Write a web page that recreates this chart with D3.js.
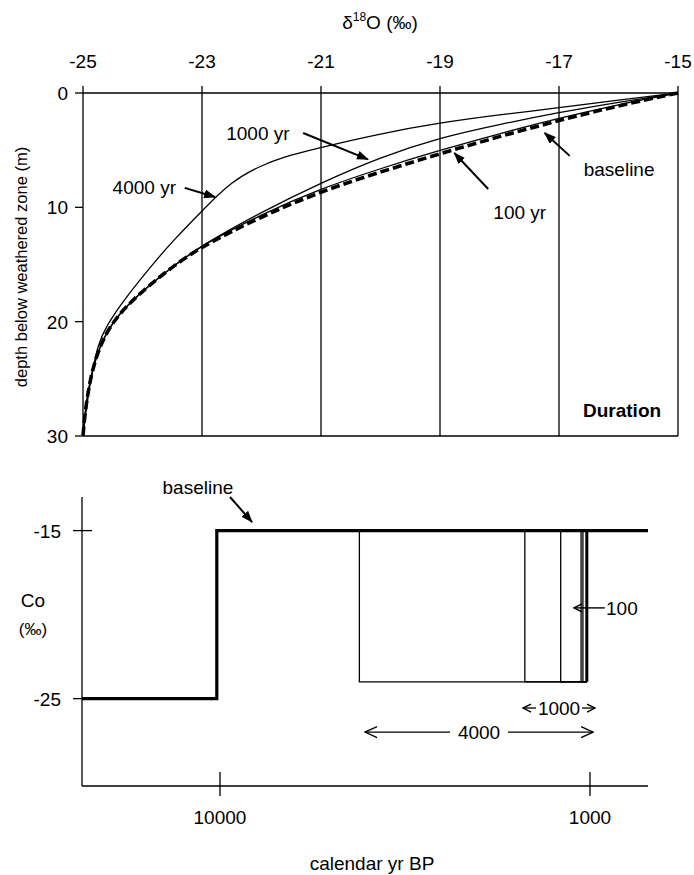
<!DOCTYPE html>
<html>
<head>
<meta charset="utf-8">
<script src="https://cdn.jsdelivr.net/npm/d3@7"></script>
<style>
  body { margin: 0; background: #fff; }
  text { font-family: "Liberation Sans", Arial, Helvetica, sans-serif; fill: #000; }
</style>
</head>
<body>
<div id="chart"></div>
<script>
// ---------- values ----------
const o18Ticks = [-25, -23, -21, -19, -17, -15];
const depthTicks = [0, 10, 20, 30];

// profiles: [delta18O (permil), depth below weathered zone (m)]
const baselineProfile = [
  [-15, 0], [-16, 1.1], [-17, 2.4], [-18, 3.8], [-19, 5.3], [-20, 6.9], [-21, 8.6],
  [-22, 10.8], [-23, 13.4], [-23.5, 15.2], [-24, 17.3], [-24.5, 19.8], [-24.8, 23],
  [-24.95, 27], [-25, 30]
];
const profile100 = [
  [-15, 0], [-16, 1.0], [-17, 2.2], [-18, 3.55], [-19, 5.0], [-20, 6.6], [-21, 8.35],
  [-22, 10.6], [-23, 13.3], [-23.5, 15.2], [-24, 17.3], [-24.5, 19.8], [-24.8, 23],
  [-24.95, 27], [-25, 30]
];
const profile1000 = [
  [-15, 0], [-16, 0.8], [-17, 1.7], [-18, 2.75], [-19, 3.9], [-20, 5.6], [-21, 7.85],
  [-22, 10.4], [-23, 13.3], [-23.5, 15.2], [-24, 17.3], [-24.5, 19.8], [-24.8, 23],
  [-24.95, 27], [-25, 30]
];
const profile4000 = [
  [-15, 0], [-16, 0.6], [-17, 1.3], [-18, 1.9], [-19, 2.6], [-20, 3.55], [-21, 4.75],
  [-21.5, 5.4], [-22, 6.3], [-22.5, 7.7], [-23, 10.3], [-23.5, 13.0], [-23.8, 14.8],
  [-24.3, 18.0], [-24.6, 20.3], [-24.75, 22.0], [-24.85, 24.5], [-24.93, 27],
  [-25, 30]
];

const coTicks = [-15, -25];
const yearTicks = [10000, 1000];
const yearDomain = [23600, 697];
// baseline input history: [calendar yr BP, Co]
const baselineHistory = [[23600, -25], [10200, -25], [10200, -15], [697, -15]];
// pulse start ages (yr BP); all pulses end at pulseEnd and reach pulseValue
const pulseStarts = [4200, 1500, 1200, 1057, 1045];
const pulseEnd = 1020;
const pulseValue = -24;

// ---------- layout ----------
const width = 694, height = 875;
const svg = d3.select("#chart").append("svg")
  .attr("width", width).attr("height", height)
  .style("background", "#fff");

const defs = svg.append("defs");
defs.append("marker")
  .attr("id", "tri")
  .attr("viewBox", "0 0 12 9")
  .attr("refX", 11).attr("refY", 4.5)
  .attr("markerWidth", 12).attr("markerHeight", 9)
  .attr("markerUnits", "userSpaceOnUse")
  .attr("orient", "auto")
  .append("path").attr("d", "M0,0 L12,4.5 L0,9 Z").attr("fill", "#000");
defs.append("marker")
  .attr("id", "chev")
  .attr("viewBox", "0 0 14 14")
  .attr("refX", 13).attr("refY", 7)
  .attr("markerWidth", 14).attr("markerHeight", 14)
  .attr("markerUnits", "userSpaceOnUse")
  .attr("orient", "auto-start-reverse")
  .append("path").attr("d", "M1,1.5 L13,7 L1,12.5")
  .attr("fill", "none").attr("stroke", "#000").attr("stroke-width", 1.4);
defs.append("marker")
  .attr("id", "chevSmall")
  .attr("viewBox", "0 0 10 10")
  .attr("refX", 9).attr("refY", 5)
  .attr("markerWidth", 10).attr("markerHeight", 10)
  .attr("markerUnits", "userSpaceOnUse")
  .attr("orient", "auto-start-reverse")
  .append("path").attr("d", "M1,1 L9,5 L1,9")
  .attr("fill", "none").attr("stroke", "#000").attr("stroke-width", 1.4);

////////////////////// Top panel: profiles //////////////////////
const x1 = d3.scaleLinear().domain([-25, -15]).range([83, 678]);
const y1 = d3.scaleLinear().domain([0, 30]).range([93, 436]);
const topG = svg.append("g");

// vertical lines at every o18 tick (gridlines + frame sides), with tick stubs above
topG.selectAll(".vgrid")
  .data(o18Ticks)
  .join("line")
  .attr("x1", d => x1(d)).attr("x2", d => x1(d))
  .attr("y1", y1(0) - 7).attr("y2", y1(30))
  .attr("stroke", "#000").attr("stroke-width", 1.3);

// top and bottom frame lines
topG.selectAll(".hframe")
  .data([0, 30])
  .join("line")
  .attr("x1", x1(-25)).attr("x2", x1(-15))
  .attr("y1", d => y1(d)).attr("y2", d => y1(d))
  .attr("stroke", "#000").attr("stroke-width", 1.5);

// left ticks
topG.selectAll(".ytick")
  .data(depthTicks)
  .join("line")
  .attr("x1", x1(-25) - 8).attr("x2", x1(-25))
  .attr("y1", d => y1(d)).attr("y2", d => y1(d))
  .attr("stroke", "#000").attr("stroke-width", 1.3);

topG.selectAll(".ylab")
  .data(depthTicks)
  .join("text")
  .attr("x", 68).attr("y", d => y1(d) + 7)
  .attr("text-anchor", "end")
  .attr("font-size", 19)
  .text(d => d);

topG.selectAll(".xlab")
  .data(o18Ticks)
  .join("text")
  .attr("x", d => x1(d)).attr("y", 68)
  .attr("text-anchor", "middle")
  .attr("font-size", 19)
  .text(d => d);

// axis titles
const t1 = topG.append("text")
  .attr("x", 380).attr("y", 29)
  .attr("text-anchor", "middle")
  .attr("font-size", 19);
t1.append("tspan").text("\u03B4");
t1.append("tspan").attr("font-size", 12).attr("dy", -8).text("18");
t1.append("tspan").attr("dy", 8).text("O (\u2030)");

topG.append("text")
  .attr("transform", "translate(27,267) rotate(-90)")
  .attr("text-anchor", "middle")
  .attr("font-size", 16.5)
  .text("depth below weathered zone (m)");

// curves (smoothed through the read-off points)
const profileLine = d3.line()
  .x(d => x1(d[0]))
  .y(d => y1(d[1]))
  .curve(d3.curveBasis);

[profile4000, profile1000, profile100].forEach(p => {
  topG.append("path")
    .attr("d", profileLine(p))
    .attr("fill", "none")
    .attr("stroke", "#000")
    .attr("stroke-width", 1.3);
});
topG.append("path")
  .attr("d", profileLine(baselineProfile))
  .attr("fill", "none")
  .attr("stroke", "#000")
  .attr("stroke-width", 3.6)
  .attr("stroke-dasharray", "9,4");

// labels with arrows (data coordinates: [o18, depth])
const topNotes = [
  { text: "4000 yr", at: [-23.97, 8.2], from: [-23.29, 8.3], to: [-22.78, 9.1] },
  { text: "1000 yr", at: [-22.06, 3.5], from: [-21.30, 3.5], to: [-20.21, 5.8] },
  { text: "baseline", at: [-15.99, 6.65], from: [-16.82, 5.5], to: [-17.24, 3.5] },
  { text: "100 yr", at: [-17.66, 10.4], from: [-18.19, 8.4], to: [-18.76, 5.25] }
];
topNotes.forEach(n => {
  topG.append("text")
    .attr("x", x1(n.at[0])).attr("y", y1(n.at[1]) + 7)
    .attr("text-anchor", "middle")
    .attr("font-size", 19)
    .text(n.text);
  topG.append("line")
    .attr("x1", x1(n.from[0])).attr("y1", y1(n.from[1]))
    .attr("x2", x1(n.to[0])).attr("y2", y1(n.to[1]))
    .attr("stroke", "#000").attr("stroke-width", 2)
    .attr("marker-end", "url(#tri)");
});

topG.append("text")
  .attr("x", x1(-15.94)).attr("y", y1(27.7) + 7)
  .attr("text-anchor", "middle")
  .attr("font-size", 19)
  .attr("font-weight", "bold")
  .text("Duration");

////////////////////// Bottom panel: input history //////////////////////
const x2 = d3.scaleLog().domain(yearDomain).range([82, 648]);
const y2 = d3.scaleLinear().domain([-30.2, -13]).range([786, 497]);
const botG = svg.append("g");

// axes
botG.append("line")
  .attr("x1", x2.range()[0]).attr("x2", x2.range()[0])
  .attr("y1", y2.range()[1]).attr("y2", y2.range()[0])
  .attr("stroke", "#000").attr("stroke-width", 1.3);
botG.append("line")
  .attr("x1", x2.range()[0]).attr("x2", x2.range()[1])
  .attr("y1", y2.range()[0]).attr("y2", y2.range()[0])
  .attr("stroke", "#000").attr("stroke-width", 1.5);

botG.selectAll(".cotick")
  .data(coTicks)
  .join("line")
  .attr("x1", 73).attr("x2", (d, i) => i === 0 ? 92 : 82)
  .attr("y1", d => y2(d)).attr("y2", d => y2(d))
  .attr("stroke", "#000").attr("stroke-width", 1.3);
botG.selectAll(".colab")
  .data(coTicks)
  .join("text")
  .attr("x", 61).attr("y", d => y2(d) + 7)
  .attr("text-anchor", "end")
  .attr("font-size", 19)
  .text(d => d);

botG.selectAll(".yrtick")
  .data(yearTicks)
  .join("line")
  .attr("x1", d => x2(d)).attr("x2", d => x2(d))
  .attr("y1", y2.range()[0] - 14).attr("y2", y2.range()[0] + 10)
  .attr("stroke", "#000").attr("stroke-width", 1.3);
botG.selectAll(".yrlab")
  .data(yearTicks)
  .join("text")
  .attr("x", d => x2(d)).attr("y", 824)
  .attr("text-anchor", "middle")
  .attr("font-size", 19)
  .text(d => d);

botG.append("text")
  .attr("x", 372).attr("y", 870)
  .attr("text-anchor", "middle")
  .attr("font-size", 19)
  .text("calendar yr BP");

botG.append("text")
  .attr("x", 33).attr("y", 607)
  .attr("text-anchor", "middle")
  .attr("font-size", 19)
  .text("Co");
botG.append("text")
  .attr("x", 33).attr("y", 635)
  .attr("text-anchor", "middle")
  .attr("font-size", 17)
  .text("(\u2030)");

// pulses
pulseStarts.forEach(s => {
  const path = d3.path();
  path.moveTo(x2(s), y2(-15));
  path.lineTo(x2(s), y2(pulseValue));
  path.lineTo(x2(pulseEnd), y2(pulseValue));
  botG.append("path")
    .attr("d", path.toString())
    .attr("fill", "none")
    .attr("stroke", "#000")
    .attr("stroke-width", 1.3);
});
botG.append("line")
  .attr("x1", x2(pulseEnd)).attr("x2", x2(pulseEnd))
  .attr("y1", y2(-15)).attr("y2", y2(pulseValue))
  .attr("stroke", "#000").attr("stroke-width", 3);

// baseline history
const histLine = d3.line()
  .x(d => x2(d[0]))
  .y(d => y2(d[1]));
botG.append("path")
  .attr("d", histLine(baselineHistory))
  .attr("fill", "none")
  .attr("stroke", "#000")
  .attr("stroke-width", 3.2);

// annotations
botG.append("text")
  .attr("x", x2(11470)).attr("y", y2(-12.4) + 7)
  .attr("text-anchor", "middle")
  .attr("font-size", 19)
  .text("baseline");
botG.append("line")
  .attr("x1", x2(9396)).attr("y1", y2(-13.0))
  .attr("x2", x2(8193)).attr("y2", y2(-14.49))
  .attr("stroke", "#000").attr("stroke-width", 2)
  .attr("marker-end", "url(#tri)");

botG.append("text")
  .attr("x", x2(905)).attr("y", y2(-19.6) + 7)
  .attr("font-size", 19)
  .text("100");
botG.append("line")
  .attr("x1", x2(912)).attr("y1", y2(-19.6))
  .attr("x2", x2(1105)).attr("y2", y2(-19.6))
  .attr("stroke", "#000").attr("stroke-width", 1.4)
  .attr("marker-end", "url(#chevSmall)");

// duration arrows
const durArrows = [
  { text: "1000", from: 1517, to: 969, v: -25.56, gap: 23, mk: "chevSmall" },
  { text: "4000", from: 4055, to: 981, v: -26.99, gap: 29, mk: "chev" }
];
durArrows.forEach(a => {
  const xa = x2(a.from), xb = x2(a.to);
  const xm = (xa + xb) / 2, yy = y2(a.v);
  botG.append("text")
    .attr("x", xm).attr("y", yy + 7)
    .attr("text-anchor", "middle")
    .attr("font-size", 19)
    .text(a.text);
  botG.append("line")
    .attr("x1", xm - a.gap).attr("x2", xa)
    .attr("y1", yy).attr("y2", yy)
    .attr("stroke", "#000").attr("stroke-width", 1.3)
    .attr("marker-end", `url(#${a.mk})`);
  botG.append("line")
    .attr("x1", xm + a.gap).attr("x2", xb)
    .attr("y1", yy).attr("y2", yy)
    .attr("stroke", "#000").attr("stroke-width", 1.3)
    .attr("marker-end", `url(#${a.mk})`);
});
</script>
</body>
</html>
